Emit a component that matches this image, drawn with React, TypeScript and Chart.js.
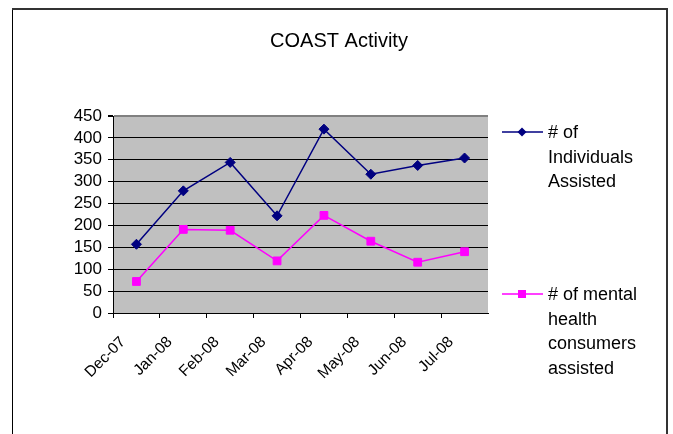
import React, { useEffect, useRef } from "react";
import { Chart, registerables } from "chart.js";

Chart.register(...registerables);

const categories = ["Dec-07", "Jan-08", "Feb-08", "Mar-08", "Apr-08", "May-08", "Jun-08", "Jul-08"];
const individualsAssisted = [157, 279, 344, 222, 420, 317, 337, 354];
const mentalHealthAssisted = [72, 191, 189, 119, 223, 164, 116, 140];
const seriesNames = ["# of Individuals Assisted", "# of mental health consumers assisted"];
const yTicks = [0, 50, 100, 150, 200, 250, 300, 350, 400, 450];
const chartTitle = "COAST Activity";

const FONT = 'Arial, "Liberation Sans", sans-serif';
const NAVY = "#000080";
const MAGENTA = "#FF00FF";

function wrapWords(ctx: CanvasRenderingContext2D, text: string, maxW: number): string[] {
  const words = text.split(" ");
  const lines: string[] = [];
  let cur = "";
  for (const w of words) {
    const t = cur ? cur + " " + w : w;
    if (cur && ctx.measureText(t).width > maxW) {
      lines.push(cur);
      cur = w;
    } else {
      cur = t;
    }
  }
  if (cur) lines.push(cur);
  return lines;
}

const decorPlugin = {
  id: "decor",
  beforeDraw(chart: any) {
    const { ctx, chartArea } = chart;
    ctx.save();
    ctx.fillStyle = "#ffffff";
    ctx.fillRect(0, 0, chart.width, chart.height);
    ctx.fillStyle = "#C0C0C0";
    ctx.fillRect(chartArea.left, chartArea.top, chartArea.right - chartArea.left, chartArea.bottom - chartArea.top);
    ctx.restore();
  },
  afterDraw(chart: any) {
    const { ctx } = chart;
    ctx.save();
    // outer frame
    ctx.fillStyle = "#000000";
    ctx.fillRect(12, 8, 1, chart.height - 8);
    ctx.fillStyle = "#333333";
    ctx.fillRect(12, 8, 656, 2);
    ctx.fillRect(666, 8, 2, chart.height - 8);
    // title
    ctx.fillStyle = "#000000";
    ctx.font = `20px ${FONT}`;
    ctx.textAlign = "center";
    ctx.textBaseline = "alphabetic";
    ctx.fillText(chartTitle, 339, 47);
    // legend
    const entryY = [132, 294];
    const colors = [NAVY, MAGENTA];
    ctx.font = `18px ${FONT}`;
    ctx.textAlign = "left";
    seriesNames.forEach((name, i) => {
      const y = entryY[i];
      ctx.strokeStyle = colors[i];
      ctx.lineWidth = 1.5;
      ctx.beginPath();
      ctx.moveTo(502, y);
      ctx.lineTo(543, y);
      ctx.stroke();
      ctx.fillStyle = colors[i];
      ctx.beginPath();
      if (i === 0) {
        ctx.moveTo(522, y - 4.5);
        ctx.lineTo(526.5, y);
        ctx.lineTo(522, y + 4.5);
        ctx.lineTo(517.5, y);
        ctx.closePath();
      } else {
        ctx.rect(518, y - 4, 8, 8);
      }
      ctx.fill();
      ctx.fillStyle = "#000000";
      const lines = wrapWords(ctx, name, 112);
      lines.forEach((ln, k) => {
        ctx.fillText(ln, 548, y + 6 + k * 24.5);
      });
    });
    ctx.restore();
  },
};

export default function App() {
  const ref = useRef<HTMLCanvasElement | null>(null);
  useEffect(() => {
    if (!ref.current) return;
    const chart = new Chart(ref.current, {
      type: "line",
      data: {
        datasets: [
          {
            label: seriesNames[0],
            data: individualsAssisted.map((v, i) => ({ x: i + 0.5, y: v })),
            borderColor: NAVY,
            backgroundColor: NAVY,
            borderWidth: 1.5,
            pointStyle: "rectRot",
            pointRadius: 5,
            pointBorderWidth: 1,
            pointBackgroundColor: NAVY,
            pointBorderColor: NAVY,
            tension: 0,
          },
          {
            label: seriesNames[1],
            data: mentalHealthAssisted.map((v, i) => ({ x: i + 0.5, y: v })),
            borderColor: MAGENTA,
            backgroundColor: MAGENTA,
            borderWidth: 1.5,
            pointStyle: "rect",
            pointRadius: 5.5,
            pointBorderWidth: 1,
            pointBackgroundColor: MAGENTA,
            pointBorderColor: MAGENTA,
            tension: 0,
          },
        ],
      },
      options: {
        responsive: false,
        animation: false,
        devicePixelRatio: 1,
        layout: { padding: { left: 0, top: 116, right: 185, bottom: 0 } },
        plugins: {
          legend: { display: false },
          title: { display: false },
          tooltip: { enabled: false },
        },
        scales: {
          x: {
            type: "linear",
            min: 0,
            max: categories.length,
            afterFit: (scale: any) => {
              scale.height = 121;
            },
            afterBuildTicks: (scale: any) => {
              scale.ticks = Array.from({ length: categories.length + 1 }, (_, i) => ({ value: i }));
            },
            ticks: {
              autoSkip: false,
              maxRotation: 45,
              minRotation: 45,
              labelOffset: 10,
              padding: 15,
              color: "#000000",
              font: { family: FONT, size: 15.5 },
              callback: (v: any) => categories[v as number] ?? "",
            },
            grid: {
              drawOnChartArea: false,
              drawTicks: true,
              tickLength: 5,
              tickColor: (c: any) => (c.tick && c.tick.value === categories.length ? "rgba(0,0,0,0)" : "#000000"),
            },
            border: { display: true, color: "#000000", width: 1 },
          },
          y: {
            min: 0,
            max: 450,
            afterFit: (scale: any) => {
              scale.width = 113;
            },
            afterBuildTicks: (scale: any) => {
              scale.ticks = yTicks.map((v) => ({ value: v }));
            },
            ticks: {
              autoSkip: false,
              padding: 6,
              color: "#000000",
              font: { family: FONT, size: 17 },
            },
            grid: {
              color: (c: any) => (c.tick && c.tick.value === 450 ? "#808080" : "#000000"),
              lineWidth: (c: any) => (c.tick && c.tick.value === 450 ? 2 : 1),
              drawTicks: true,
              tickLength: 5,
              tickColor: "#000000",
            },
            border: { display: true, color: "#000000", width: 1 },
          },
        },
      },
      plugins: [decorPlugin],
    });
    return () => chart.destroy();
  }, []);
  return (
    <div style={{ position: "absolute", left: 0, top: 0, width: 673, height: 434, background: "#fff" }}>
      <canvas ref={ref} width={673} height={434} style={{ width: 673, height: 434, display: "block" }} />
    </div>
  );
}
